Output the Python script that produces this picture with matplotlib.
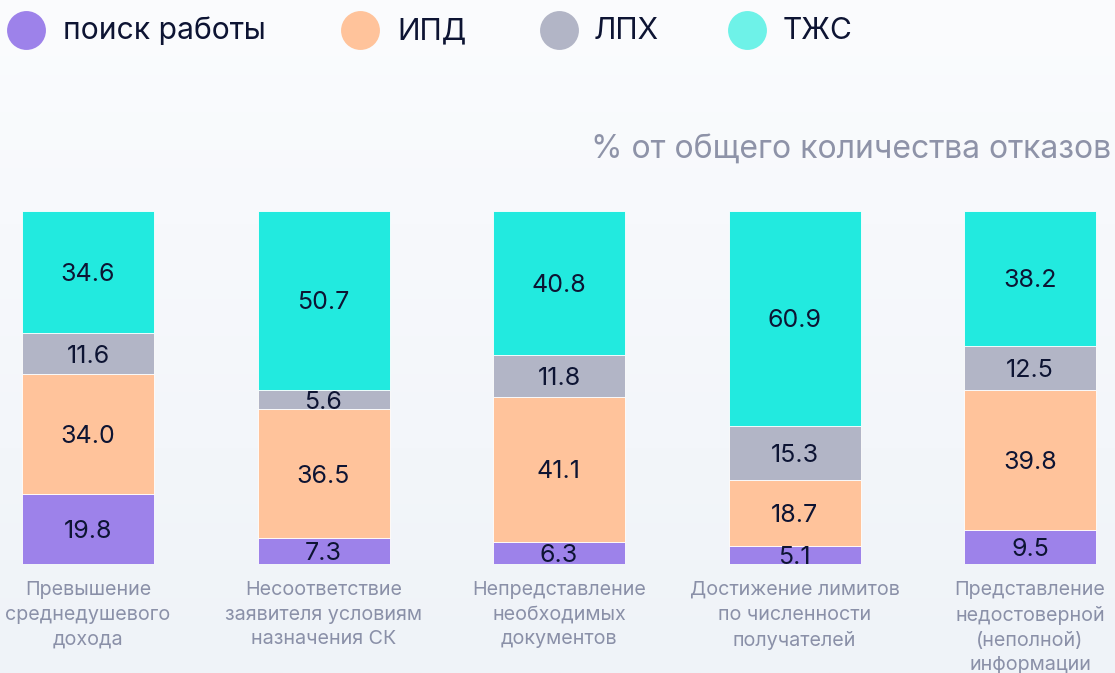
import matplotlib
matplotlib.use("Agg")
import matplotlib.pyplot as plt
import numpy as np
from matplotlib.lines import Line2D
from matplotlib.transforms import blended_transform_factory, offset_copy

plt.rcParams['font.family'] = ['Inter', 'DejaVu Sans']

categories = ["Превышение\nсреднедушевого\nдохода",
              "Несоответствие\nзаявителя условиям\nназначения СК",
              "Непредставление\nнеобходимых\nдокументов",
              "Достижение лимитов\nпо численности\nполучателей",
              "Представление\nнедостоверной\n(неполной)\nинформации"]
series_names = ["поиск работы", "ИПД", "ЛПХ", "ТЖС"]
poisk = [19.8, 7.3, 6.3, 5.1, 9.5]
ipd = [34.0, 36.5, 41.1, 18.7, 39.8]
lph = [11.6, 5.6, 11.8, 15.3, 12.5]
tzhs = [34.6, 50.7, 40.8, 60.9, 38.2]
title = "% от общего количества отказов"

colors = ["#9d82ea", "#ffc39b", "#b2b5c6", "#22eadf"]
legend_colors = ["#9d82ea", "#ffc39b", "#b2b5c6", "#6ef2e8"]
text_dark = "#0d1433"
text_gray = "#8a90a8"

W, H = 1115, 673
fig = plt.figure(figsize=(W / 100, H / 100), dpi=100)

# background gradient
bg = fig.add_axes([0, 0, 1, 1], zorder=-10)
top = np.array([251, 252, 254]) / 255
bot = np.array([239, 243, 248]) / 255
t = np.linspace(0, 1, H)[:, None]
grad = top[None, :] * (1 - t) + bot[None, :] * t
grad2 = np.repeat(grad[:, None, :], 2, axis=1)
bg.imshow(grad2, aspect='auto', extent=[0, 1, 0, 1], interpolation='bilinear')
bg.set_xlim(0, 1)
bg.set_ylim(0, 1)
bg.axis('off')

# main axes
px_unit = 235.5
x0 = 88
left_lim = -x0 / px_unit
right_lim = (W - x0) / px_unit
ax = fig.add_axes([0, (H - 564) / H, 1, (564 - 211) / H])
ax.set_xlim(left_lim, right_lim)
ax.set_ylim(0, 100)
ax.axis('off')
ax.patch.set_alpha(0)

x = np.arange(len(categories))
width = 132 / px_unit
bottom = np.zeros(len(categories))
val_tr = offset_copy(ax.transData, fig=fig, x=0, y=-2.5, units='dots')
for vals, c in zip([poisk, ipd, lph, tzhs], colors):
    vals = np.array(vals)
    ax.bar(x, vals, width=width, bottom=bottom, color=c, edgecolor="white", linewidth=0.6)
    for xi, b, v in zip(x, bottom, vals):
        ax.text(xi, b + v / 2, f"{v:.1f}", ha='center', va='center',
                fontsize=18, color=text_dark, transform=val_tr)
    bottom += vals

# category labels
tr = blended_transform_factory(ax.transData, fig.transFigure)
for xi, lab in zip(x, categories):
    ax.text(xi, 1 - 581 / H, lab, transform=tr, ha='center', va='top',
            fontsize=14.2, color=text_gray, linespacing=1.47, clip_on=False)

# title
fig.text(1 - 4 / W, 1 - 150 / H, title, ha='right', va='center',
         fontsize=23, color="#8e93a8")

# legend
circle_x = [26, 360, 559, 747]
text_x = [63, 397, 594, 783]
ly = 1 - 29.5 / H
for cx, tx, name, c in zip(circle_x, text_x, series_names, legend_colors):
    fig.add_artist(Line2D([cx / W], [ly], marker='o', markersize=28,
                          color=c, markeredgewidth=0, transform=fig.transFigure))
    fig.text(tx / W, 1 - 31 / H, name, ha='left', va='center', fontsize=21.6, color=text_dark)

fig.savefig("out.png", dpi=100)
